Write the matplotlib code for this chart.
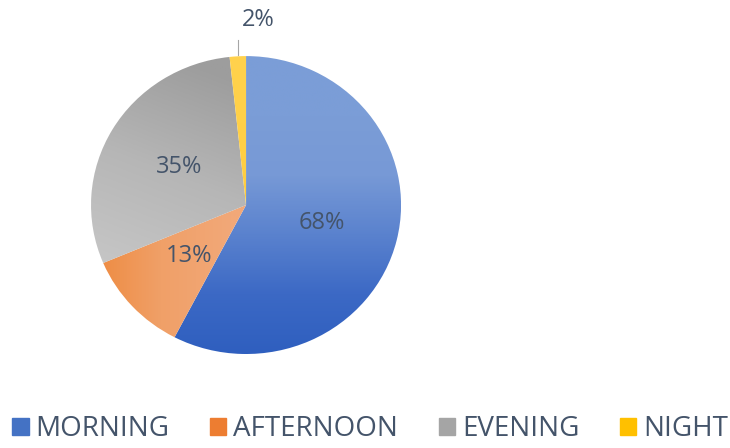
import matplotlib
matplotlib.use("Agg")
import matplotlib.pyplot as plt
import matplotlib.patches as mpatches
import numpy as np
from matplotlib.colors import LinearSegmentedColormap

# data
labels = ["MORNING", "AFTERNOON", "EVENING", "NIGHT"]
values = [68, 13, 35, 2]
legend_colors = ["#4472c4", "#ed7d31", "#a5a5a5", "#ffc000"]

# gradient stops per slice
grad_stops = [
    ["#7b9dd7", "#7b9dd7", "#7799d6", "#5a82ce", "#3c69c5", "#2f5fbf"],
    ["#ee8a3f", "#f0a068", "#f2a878"],
    ["#9d9d9d", "#b6b6b6", "#c6c6c6"],
    ["#ffd24d", "#ffc933"],
]

plt.rcParams["font.family"] = ["Liberation Sans Narrow", "Open Sans", "DejaVu Sans"]
text_color = "#44546a"

fig = plt.figure(figsize=(7.30, 4.48), dpi=100)
ax = fig.add_axes([0.1247, 0.2098, 0.4247, 0.665])

wedges, _ = ax.pie(values, startangle=90, counterclock=False,
                   colors=legend_colors, radius=1.0,
                   wedgeprops=dict(linewidth=0.8, edgecolor="white"))
ax.set_xlim(-1, 1)
ax.set_ylim(-1, 1)
ax.set_aspect("auto")

# gradient fills clipped to each wedge
yy, xx = np.mgrid[1:-1:300j, -1:1:300j]
fields = [
    (1 - yy) / 2,                       # morning: top light -> bottom dark
    np.clip((xx + 1.0) / 0.9, 0, 1),    # afternoon: left dark -> right light
    np.clip((0.9 - yy + (xx + 0.2) * -0.4) / 1.6, 0, 1),  # evening
    (1 - yy) / 2,
]
for w, stops, f in zip(wedges, grad_stops, fields):
    cmap = LinearSegmentedColormap.from_list("g", stops)
    im = ax.imshow(f, cmap=cmap, extent=[-1, 1, -1, 1], vmin=0, vmax=1,
                   zorder=w.get_zorder() + 0.1, interpolation="bilinear",
                   aspect="auto")
    im.set_clip_path(w)
    w.set_facecolor("none")

# value labels
for i, (w, v) in enumerate(zip(wedges, values)):
    ang = np.deg2rad((w.theta1 + w.theta2) / 2)
    if labels[i] == "NIGHT":
        x0 = np.cos(ang)
        ax.plot([x0, x0], [1.01, 1.11], color="#a6a6a6", lw=0.8,
                clip_on=False, zorder=5)
        ax.text(x0 + 0.13, 1.24, f"{v}%", ha="center", va="center",
                fontsize=17, color=text_color, zorder=6)
    else:
        r = 0.5
        ax.text(r * np.cos(ang), r * np.sin(ang), f"{v}%", ha="center",
                va="center", fontsize=17, color=text_color, zorder=6)

handles = [mpatches.Patch(color=c, label=l) for c, l in zip(legend_colors, labels)]
leg = fig.legend(handles=handles, loc="lower center", ncol=4,
                 bbox_to_anchor=(0.507, -0.045), frameon=False, fontsize=20,
                 handlelength=0.6, handleheight=0.6, handletextpad=0.25,
                 columnspacing=1.45)
for t in leg.get_texts():
    t.set_color(text_color)

fig.savefig("out.png", dpi=100)
